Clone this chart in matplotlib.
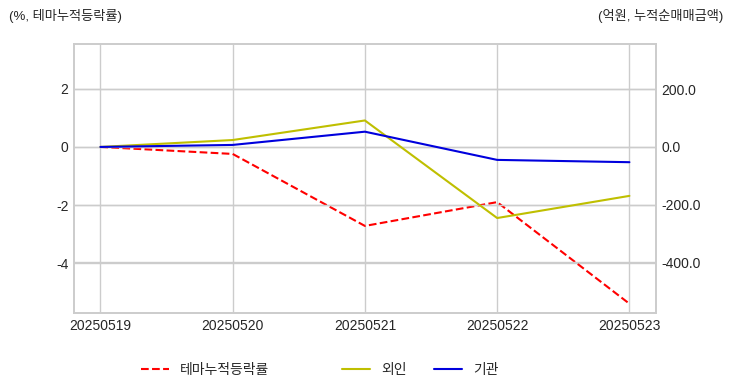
import matplotlib
matplotlib.use('Agg')
import matplotlib.pyplot as plt
from matplotlib.ticker import FormatStrFormatter

dates = ['20250519', '20250520', '20250521', '20250522', '20250523']
theme_rate = [0.0, -0.24, -2.72, -1.90, -5.40]      # %, left axis
foreign = [0.0, 24.0, 92.0, -247.0, -170.0]          # 억원, right axis
institution = [0.0, 7.0, 53.0, -45.0, -53.0]         # 억원, right axis

plt.style.use('seaborn-v0_8-whitegrid')
plt.rcParams['font.family'] = ['Liberation Sans', 'Noto Sans CJK KR', 'DejaVu Sans']
plt.rcParams['axes.unicode_minus'] = False

fig = plt.figure(figsize=(7.32, 3.92), dpi=100)
ax = fig.add_axes([0.101, 0.2015, 0.795, 0.6865])
ax2 = ax.twinx()

x = range(len(dates))
l1, = ax.plot(x, theme_rate, color='red', linestyle='--', linewidth=1.5, label='테마누적등락률')
l2, = ax2.plot(x, foreign, color='#bfbf00', linewidth=1.5, label='외인')
l3, = ax2.plot(x, institution, color='#0000dd', linewidth=1.5, label='기관')

ax.set_xlim(-0.2, 4.0 + 0.2)
ax.set_ylim(-5.72, 3.55)
ax2.set_ylim(-577, 358)
ax.set_xticks(list(x))
ax.set_xticklabels(dates)
ax.set_yticks([-4, -2, 0, 2])
ax2.set_yticks([-400, -200, 0, 200])
ax2.yaxis.set_major_formatter(FormatStrFormatter('%.1f'))

for a in (ax, ax2):
    a.tick_params(labelsize=10, colors='#262626', length=0, pad=4)
    for s in a.spines.values():
        s.set_color('#cccccc')
        s.set_linewidth(1.2)
ax.grid(True, color='#cccccc', linewidth=1.0)
ax2.grid(True, axis='y', color='#cccccc', linewidth=1.0)

fig.text(0.012, 0.96, '(%, 테마누적등락률)', fontsize=9.5, color='#262626', va='center', ha='left')
fig.text(0.988, 0.96, '(억원, 누적순매매금액)', fontsize=9.5, color='#262626', va='center', ha='right')

fig.legend(handles=[l1], loc='center', bbox_to_anchor=(0.28, 0.057), frameon=False, fontsize=10)
fig.legend(handles=[l2, l3], loc='center', bbox_to_anchor=(0.574, 0.057), ncol=2,
           frameon=False, fontsize=10, columnspacing=2.0)

fig.savefig('out.png', dpi=100)
